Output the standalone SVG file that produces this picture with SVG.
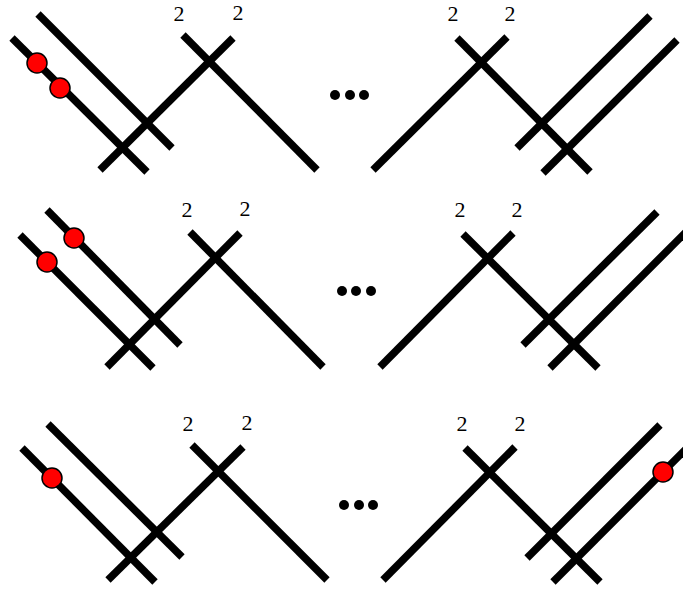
<svg xmlns="http://www.w3.org/2000/svg" width="683" height="592" viewBox="0 0 683 592">
<style>
.ln{stroke:#000;stroke-width:7.5;stroke-linecap:butt;fill:none}
.rd{fill:#ff0000;stroke:#000;stroke-width:1.5}
.dt{fill:#000}
.lb{font-family:"Liberation Serif","Times New Roman",serif;font-size:22px;fill:#000;text-anchor:middle}
</style>
<rect width="683" height="592" fill="#fff"/>
<g id="connectors">
  <g id="row1-lines">
    <line class="ln" x1="12" y1="38" x2="147" y2="172"/>
    <line class="ln" x1="38" y1="14" x2="172" y2="148"/>
    <line class="ln" x1="100" y1="170" x2="233" y2="38"/>
    <line class="ln" x1="183" y1="35" x2="317" y2="170"/>
    <line class="ln" x1="373" y1="170" x2="507" y2="37"/>
    <line class="ln" x1="457" y1="38" x2="590" y2="172"/>
    <line class="ln" x1="517" y1="148" x2="650" y2="16"/>
    <line class="ln" x1="543" y1="173" x2="677" y2="40"/>
  </g>
  <g id="row2-lines">
    <line class="ln" x1="20" y1="235" x2="153" y2="368"/>
    <line class="ln" x1="47" y1="210" x2="180" y2="345"/>
    <line class="ln" x1="107" y1="367" x2="240" y2="233"/>
    <line class="ln" x1="190" y1="232" x2="323" y2="367"/>
    <line class="ln" x1="380" y1="367" x2="513" y2="233"/>
    <line class="ln" x1="463" y1="234" x2="598" y2="368"/>
    <line class="ln" x1="523" y1="345" x2="657" y2="212"/>
    <line class="ln" x1="550" y1="368" x2="688" y2="230"/>
  </g>
  <g id="row3-lines">
    <line class="ln" x1="22" y1="448" x2="155" y2="582"/>
    <line class="ln" x1="48" y1="424" x2="182" y2="557"/>
    <line class="ln" x1="108" y1="580" x2="243" y2="447"/>
    <line class="ln" x1="192" y1="445" x2="327" y2="580"/>
    <line class="ln" x1="383" y1="580" x2="515" y2="447"/>
    <line class="ln" x1="465" y1="448" x2="600" y2="582"/>
    <line class="ln" x1="527" y1="558" x2="660" y2="425"/>
    <line class="ln" x1="553" y1="582" x2="688" y2="447"/>
  </g>
</g>
<g id="row1-nodes">
  <circle class="rd" cx="37" cy="63" r="10"/>
  <circle class="rd" cx="60" cy="88" r="10"/>
  <circle class="dt" cx="335" cy="95" r="5"/>
  <circle class="dt" cx="350" cy="95" r="5"/>
  <circle class="dt" cx="364" cy="95" r="5"/>
  <text class="lb" x="179" y="21">2</text>
  <text class="lb" x="238" y="20">2</text>
  <text class="lb" x="453" y="21">2</text>
  <text class="lb" x="510" y="21">2</text>
</g>
<g id="row2-nodes">
  <circle class="rd" cx="47" cy="262" r="10"/>
  <circle class="rd" cx="74" cy="238" r="10"/>
  <circle class="dt" cx="342" cy="291" r="5"/>
  <circle class="dt" cx="356" cy="291" r="5"/>
  <circle class="dt" cx="371" cy="291" r="5"/>
  <text class="lb" x="187" y="217">2</text>
  <text class="lb" x="245" y="216">2</text>
  <text class="lb" x="460" y="217">2</text>
  <text class="lb" x="517" y="217">2</text>
</g>
<g id="row3-nodes">
  <circle class="rd" cx="52" cy="478" r="10"/>
  <circle class="rd" cx="663" cy="472" r="10"/>
  <circle class="dt" cx="344" cy="505" r="5"/>
  <circle class="dt" cx="359" cy="505" r="5"/>
  <circle class="dt" cx="373" cy="505" r="5"/>
  <text class="lb" x="188" y="431">2</text>
  <text class="lb" x="247" y="430">2</text>
  <text class="lb" x="462" y="431">2</text>
  <text class="lb" x="520" y="431">2</text>
</g>
</svg>
